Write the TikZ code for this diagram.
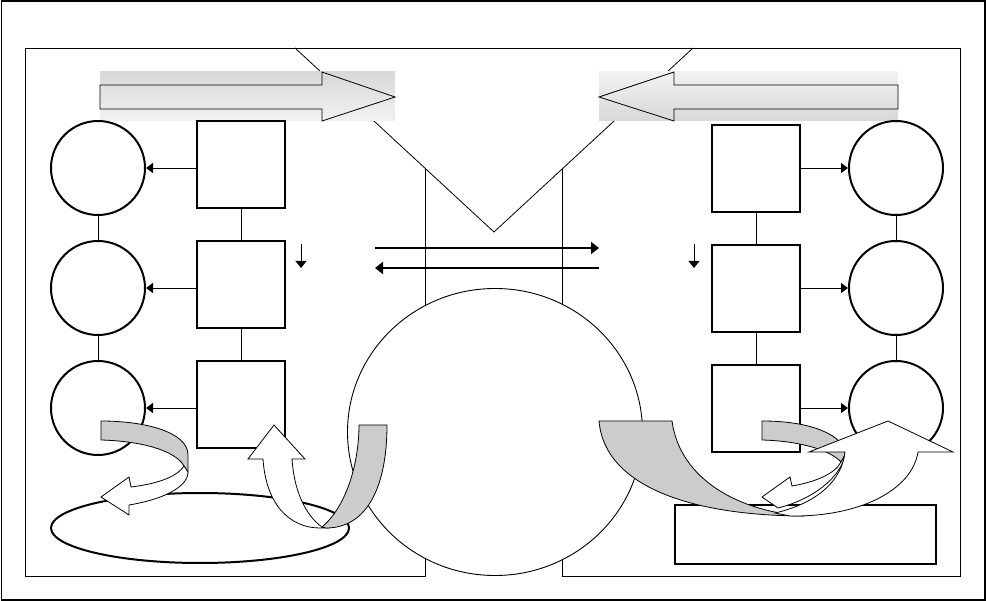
\documentclass[tikz,border=0pt]{standalone}
\usetikzlibrary{arrows.meta,shapes.geometric}
\definecolor{bandgray}{RGB}{204,204,204}
\definecolor{shdark}{RGB}{216,216,216}
\definecolor{shlight}{RGB}{242,242,242}
\tikzset{
  boxn/.style={draw, line width=2pt, minimum width=88pt, minimum height=87pt, inner sep=0pt},
  bub/.style={draw, circle, line width=2pt, minimum size=94pt, inner sep=0pt},
  thinl/.style={line width=0.9pt},
  tri/.style={-{Triangle[length=7pt,width=10pt]}, line width=0.9pt},
  midarr/.style={-{Triangle[length=8pt,width=12pt]}, line width=2.4pt},
  downarr/.style={-{Triangle[length=7pt,width=11pt]}, line width=1pt},
  band/.style={draw, line width=0.8pt, fill=bandgray},
  wband/.style={draw, line width=0.8pt, fill=white},
  blockarr/.style={draw, line width=0.8pt},
}
\begin{document}
\begin{tikzpicture}[x=1pt,y=-1pt]
\useasboundingbox (0,0) rectangle (986,601);
% outer frame
\coordinate (o1) at (1.5,1);
\coordinate (o2) at (985,600);
\draw[line width=1.4pt] (o1) rectangle (o2);
% inner frame
\coordinate (f1) at (25,48);
\coordinate (f2) at (960,48);
\coordinate (f3) at (960,576);
\coordinate (f4) at (562,576);
\coordinate (f5) at (562,169);
\coordinate (f6) at (425,168);
\coordinate (f7) at (425,576);
\coordinate (f8) at (25,576);
\draw[thinl] (f1) -- (f2) -- (f3) -- (f4) -- (f5);
\draw[thinl] (f6) -- (f7) -- (f8) -- (f1);
% V
\coordinate (v1) at (295,48);
\coordinate (v2) at (494,232);
\coordinate (v3) at (693,48);
\draw[line width=0.8pt] (v1) -- (v2) -- (v3);
% top block arrows
\shade[top color=shdark, bottom color=shlight] (100,72) rectangle (395,121);
\draw[blockarr] (100,85) -- (322,85) -- (322,72) -- (395,97) -- (322,121) -- (322,109) -- (100,109) -- cycle;
\shade[top color=shlight, bottom color=shdark] (599,72) rectangle (898,121);
\draw[blockarr] (898,85) -- (674,85) -- (674,72) -- (599,97) -- (674,121) -- (674,109) -- (898,109) -- cycle;
% left column
\node[bub] (lc1) at (98,168) {};
\node[bub] (lc2) at (98,288) {};
\node[bub] (lc3) at (98,408) {};
\node[boxn] (lb1) at (241,165) {};
\node[boxn] (lb2) at (241,284.5) {};
\node[boxn] (lb3) at (241,404.5) {};
\draw[thinl] (lc1.south) -- (lc2.north);
\draw[thinl] (lc2.south) -- (lc3.north);
\draw[thinl] (lb1.south) -- (lb2.north);
\draw[thinl] (lb2.south) -- (lb3.north);
\draw[tri] (lb1.west |- lc1.center) -- (lc1.east);
\draw[tri] (lb2.west |- lc2.center) -- (lc2.east);
\draw[tri] (lb3.west |- lc3.center) -- (lc3.east);
% right column
\node[bub] (rc1) at (896,168) {};
\node[bub] (rc2) at (896,288) {};
\node[bub] (rc3) at (896,408) {};
\node[boxn] (rb1) at (756,168.5) {};
\node[boxn] (rb2) at (756,288.5) {};
\node[boxn] (rb3) at (756,408.5) {};
\draw[thinl] (rc1.south) -- (rc2.north);
\draw[thinl] (rc2.south) -- (rc3.north);
\draw[thinl] (rb1.south) -- (rb2.north);
\draw[thinl] (rb2.south) -- (rb3.north);
\draw[tri] (rb1.east |- rc1.center) -- (rc1.west);
\draw[tri] (rb2.east |- rc2.center) -- (rc2.west);
\draw[tri] (rb3.east |- rc3.center) -- (rc3.west);
% small down arrows
\coordinate (d1a) at (301,244);
\coordinate (d1b) at (301,268);
\coordinate (d2a) at (694,244);
\coordinate (d2b) at (694,268);
\draw[downarr] (d1a) -- (d1b);
\draw[downarr] (d2a) -- (d2b);
% middle arrows
\coordinate (m1a) at (375,248);
\coordinate (m1b) at (599,248);
\coordinate (m2a) at (599,268);
\coordinate (m2b) at (375,268);
\draw[midarr] (m1a) -- (m1b);
\draw[midarr] (m2a) -- (m2b);
% big circle
\node[draw, ellipse, fill=white, line width=0.9pt, minimum width=295pt, minimum height=287pt, inner sep=0pt] (bigc) at (495,432) {};
% ellipse and rectangle
\node[draw, ellipse, line width=2pt, minimum width=298pt, minimum height=70pt, inner sep=0pt] (lell) at (200,528) {};
\node[draw, line width=2pt, minimum width=261pt, minimum height=59pt, inner sep=0pt] (rrect) at (805.5,534.5) {};
% left curved arrow 1
\path[band] (101,421) -- (101,440) .. controls (140,441) and (175,450) .. (184,466) -- (188,472) -- (188,455) .. controls (188,432) and (145,421) .. (101,421) -- cycle;
\path[wband] (184,466) .. controls (176,478) and (155,484) .. (131,487) -- (129,477) -- (101,497) -- (129,515) -- (129,505) .. controls (160,500) and (188,488) .. (188,472) -- cycle;
% left U arrow
\path[wband] (322,527) .. controls (305,515) and (294,490) .. (292,459) -- (305,459) -- (274,425) -- (248,459) -- (263,459) .. controls (266,505) and (290,528) .. (320,528) -- (326,528) -- cycle;
\path[band] (359,425) -- (387,425) .. controls (387,485) and (368,528) .. (326,528) -- (322,527) .. controls (348,505) and (359,460) .. (359,425) -- cycle;
% right small arrow
\path[band] (762,421) .. controls (812,421) and (842,435) .. (846,453) -- (841,462) .. controls (830,450) and (800,441) .. (762,440) -- cycle;
\path[wband] (841,462) .. controls (835,474) and (815,482) .. (792,486) -- (790,477) -- (762,497) -- (778,508) .. controls (810,500) and (840,480) .. (846,453) -- cycle;
% right big arrow
\path[band] (599,421) -- (672,421) .. controls (680,480) and (740,512) .. (805,516) .. controls (700,516) and (605,490) .. (599,421) -- cycle;
\path[wband] (790,516) .. controls (860,517) and (912,490) .. (918,452) -- (953,452) -- (888,421) -- (809,452) -- (845,452) .. controls (842,480) and (818,503) .. (775,513) -- cycle;
\end{tikzpicture}
\end{document}
